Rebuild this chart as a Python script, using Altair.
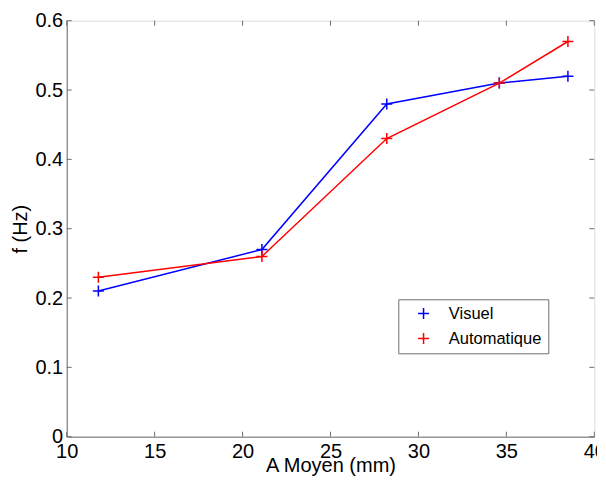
import altair as alt
import pandas as pd

# Data
a_moyen = [11.8, 21.1, 28.2, 34.6, 38.5]
visuel = [0.21, 0.27, 0.48, 0.51, 0.52]
automatique = [0.23, 0.26, 0.43, 0.51, 0.57]
series_names = ["Visuel", "Automatique"]
series_colors = ["#0000FF", "#FF0000"]
x_ticks = [10, 15, 20, 25, 30, 35, 40]
y_ticks = [0, 0.1, 0.2, 0.3, 0.4, 0.5, 0.6]

rows = []
for name, vals in zip(series_names, [visuel, automatique]):
    for i, (x, y) in enumerate(zip(a_moyen, vals)):
        rows.append({"x": x, "y": y, "serie": name, "order": i})
df = pd.DataFrame(rows)
dfx = pd.DataFrame({"t": x_ticks})
dfy = pd.DataFrame({"t": y_ticks})

W, H = 527.6, 416
PLUS = "M-1,0L1,0M0,-1L0,1"
FONT = "Liberation Sans"
AXC = "#6e6e6e"

xs = alt.Scale(domain=[10, 40], nice=False, zero=False)
ys = alt.Scale(domain=[0, 0.6], nice=False, zero=False)
cs = alt.Scale(domain=series_names, range=series_colors)

x_axis = alt.Axis(values=x_ticks, ticks=False, grid=False, labelPadding=5,
                  title="A Moyen (mm)", titlePadding=-6.5, labelFontSize=20,
                  titleFontSize=20, labelFont=FONT, titleFont=FONT,
                  titleFontWeight="normal", labelColor="black", titleColor="black",
                  domainColor=AXC, labelFlush=False, labelOverlap=False)
y_axis = alt.Axis(values=y_ticks, ticks=False, grid=False, labelPadding=4,
                  title="f (Hz)", titlePadding=4, labelFontSize=20,
                  titleFontSize=20, labelFont=FONT, titleFont=FONT,
                  titleFontWeight="normal", labelColor="black", titleColor="black",
                  domainColor=AXC, labelFlush=False, labelOverlap=False,
                  format="~g")

legend = alt.Legend(title=None, orient="none",
                    legendX=331.6, legendY=278.6,
                    symbolType=PLUS, symbolSize=121,
                    symbolStrokeWidth=1.5,
                    symbolOffset=11, labelOffset=17,
                    labelFontSize=16.5, labelFont=FONT,
                    labelColor="black", rowPadding=7,
                    padding=6, strokeColor=AXC,
                    fillColor="white")

lines = alt.Chart(df).mark_line(strokeWidth=1.5).encode(
    x=alt.X("x:Q", scale=xs, axis=x_axis),
    y=alt.Y("y:Q", scale=ys, axis=y_axis),
    color=alt.Color("serie:N", scale=cs, sort=series_names, legend=legend),
    order="order:Q",
    detail="serie:N",
)

points = alt.Chart(df).mark_point(shape=PLUS, filled=False, size=121,
                                  strokeWidth=1.5, opacity=1).encode(
    x=alt.X("x:Q", scale=xs),
    y=alt.Y("y:Q", scale=ys),
    color=alt.Color("serie:N", scale=cs, sort=series_names, legend=legend),
)

bx_ticks = alt.Chart(dfx).mark_rule(color=AXC, strokeWidth=1).encode(
    x=alt.X("t:Q", scale=xs), y=alt.value(H), y2=alt.value(H - 5))
tx_ticks = alt.Chart(dfx).mark_rule(color=AXC, strokeWidth=1).encode(
    x=alt.X("t:Q", scale=xs), y=alt.value(0), y2=alt.value(5))
ly_ticks = alt.Chart(dfy).mark_rule(color=AXC, strokeWidth=1).encode(
    y=alt.Y("t:Q", scale=ys), x=alt.value(0), x2=alt.value(5))
ry_ticks = alt.Chart(dfy).mark_rule(color=AXC, strokeWidth=1).encode(
    y=alt.Y("t:Q", scale=ys), x=alt.value(W), x2=alt.value(W - 5))

chart = alt.layer(bx_ticks, tx_ticks, ly_ticks, ry_ticks, lines, points).properties(
    width=W, height=H,
    autosize=alt.AutoSizeParams(type="none"),
    padding={"left": 58.7, "top": 12.7, "right": 3, "bottom": 39},
).configure_view(stroke=AXC, strokeWidth=1).configure(background="white")

chart.save("out.html", embed_options={"renderer": "svg", "actions": False})
